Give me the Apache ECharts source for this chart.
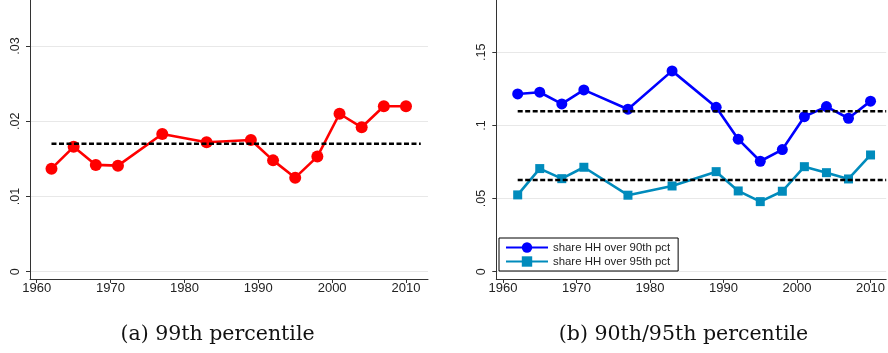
<!DOCTYPE html>
<html>
<head>
<meta charset="utf-8">
<script src="https://cdn.jsdelivr.net/npm/echarts@6/dist/echarts.min.js"></script>
<style>
  html, body { margin: 0; padding: 0; background: #fff; }
  #chart { width: 888px; height: 353px; }
</style>
</head>
<body>
<div id="chart"></div>
<script>
// Survey years
const years = [1962, 1965, 1968, 1971, 1977, 1983, 1989, 1992, 1995, 1998, 2001, 2004, 2007, 2010];

// (a) share of households over the 99th percentile
const share99 = [0.0137, 0.0166, 0.0142, 0.0141, 0.0183, 0.0172, 0.0175, 0.0148, 0.0125, 0.0153, 0.0210, 0.0192, 0.0220, 0.0220];
const mean99 = 0.0170;
const meanSpanA = [1962, 2012];

// (b) shares of households over the 90th and 95th percentiles
const share90 = [0.1215, 0.1227, 0.1147, 0.1243, 0.1111, 0.1373, 0.1124, 0.0906, 0.0755, 0.0835, 0.1060, 0.1129, 0.1049, 0.1166];
const share95 = [0.0525, 0.0705, 0.0636, 0.0714, 0.0523, 0.0586, 0.0684, 0.0552, 0.0479, 0.0550, 0.0718, 0.0677, 0.0634, 0.0798];
const mean90 = 0.1097;
const mean95 = 0.0627;
const meanSpanB = [1962, 2012.13];

// Tick values
const xTicks = [1960, 1970, 1980, 1990, 2000, 2010];
const yTicksA = [0, 0.01, 0.02, 0.03];
const yTicksB = [0, 0.05, 0.1, 0.15];

// Labels / captions
const seriesNames = ['share HH over 90th pct', 'share HH over 95th pct'];
const captionA = '(a) 99th percentile';
const captionB = '(b) 90th/95th percentile';

const axisColor = '#333';
const tickFont = { fontFamily: 'Liberation Sans', fontSize: 13, color: '#222' };

function pts(xs, ys) { return xs.map((x, i) => [x, ys[i]]); }
// Stata-style decimals: ".05" rather than "0.05"
function stataNum(v) { return v === 0 ? '0' : String(+v.toFixed(4)).replace(/^0/, ''); }
function yearLabel(v) { return String(Math.round(v)); }

function xAxisCfg(gridIndex, max) {
  return {
    type: 'value', gridIndex, min: 1959.09, max,
    axisLine: { show: true, onZero: false, lineStyle: { color: axisColor, width: 1 } },
    axisTick: { show: true, length: 4, customValues: xTicks, lineStyle: { color: axisColor } },
    axisLabel: Object.assign({ customValues: xTicks, margin: 3, formatter: yearLabel }, tickFont),
    splitLine: { show: false }
  };
}

function yAxisCfg(gridIndex, min, max, ticks) {
  return {
    type: 'value', gridIndex, min, max,
    axisLine: { show: true, onZero: false, lineStyle: { color: axisColor, width: 1 } },
    axisTick: { show: true, length: 4, customValues: ticks, lineStyle: { color: axisColor } },
    axisLabel: Object.assign({ customValues: ticks, rotate: 90, margin: 8, formatter: stataNum }, tickFont, { fontSize: 12.5 }),
    splitLine: { show: true, lineStyle: { color: '#e8e8e8', width: 1 } }
  };
}

function meanLine(xi, span, value) {
  return {
    type: 'line', xAxisIndex: xi, yAxisIndex: xi,
    data: [[span[0], value], [span[1], value]],
    symbol: 'none', silent: true, z: 5,
    lineStyle: { color: '#000', width: 2.5, type: [5, 2.5] }
  };
}

const chart = echarts.init(document.getElementById('chart'), null, { renderer: 'canvas' });

chart.setOption({
  animation: false,
  backgroundColor: '#fff',
  grid: [
    { left: 30, top: 0, width: 398, bottom: 74 },
    { left: 496.3, top: 0, right: 0, bottom: 74 }
  ],
  xAxis: [xAxisCfg(0, 2012.98), xAxisCfg(1, 2012.13)],
  yAxis: [
    yAxisCfg(0, -0.00097, 0.03612, yTicksA),
    yAxisCfg(1, -0.005, 0.18576, yTicksB)
  ],
  legend: {
    data: seriesNames,
    orient: 'vertical',
    left: 499, top: 238,
    itemWidth: 42, itemHeight: 13, itemGap: 3,
    padding: [4, 8, 4, 6],
    borderColor: '#000', borderWidth: 1, borderRadius: 0,
    selectedMode: false,
    textStyle: { fontFamily: 'Liberation Sans', fontSize: 11.4, color: '#222' }
  },
  series: [
    {
      type: 'line', xAxisIndex: 0, yAxisIndex: 0,
      data: pts(years, share99),
      symbol: 'circle', symbolSize: 12, silent: true, z: 3,
      lineStyle: { color: '#ff0000', width: 2.6 },
      itemStyle: { color: '#ff0000' }
    },
    meanLine(0, meanSpanA, mean99),
    {
      name: seriesNames[0],
      type: 'line', xAxisIndex: 1, yAxisIndex: 1,
      data: pts(years, share90),
      symbol: 'circle', symbolSize: 11, silent: true, z: 3,
      lineStyle: { color: '#0000ff', width: 2.6 },
      itemStyle: { color: '#0000ff' }
    },
    {
      name: seriesNames[1],
      type: 'line', xAxisIndex: 1, yAxisIndex: 1,
      data: pts(years, share95),
      symbol: 'rect', symbolSize: 9, silent: true, z: 3,
      lineStyle: { color: '#008bbc', width: 2.6 },
      itemStyle: { color: '#008bbc' }
    },
    meanLine(1, meanSpanB, mean90),
    meanLine(1, meanSpanB, mean95)
  ],
  graphic: [
    {
      type: 'text', x: 217.5, y: 334.5, silent: true,
      style: { text: captionA, font: '20.5px "DejaVu Serif"', fill: '#111', align: 'center', verticalAlign: 'middle' }
    },
    {
      type: 'text', x: 683.5, y: 334.5, silent: true,
      style: { text: captionB, font: '20.5px "DejaVu Serif"', fill: '#111', align: 'center', verticalAlign: 'middle' }
    }
  ]
});
</script>
</body>
</html>
